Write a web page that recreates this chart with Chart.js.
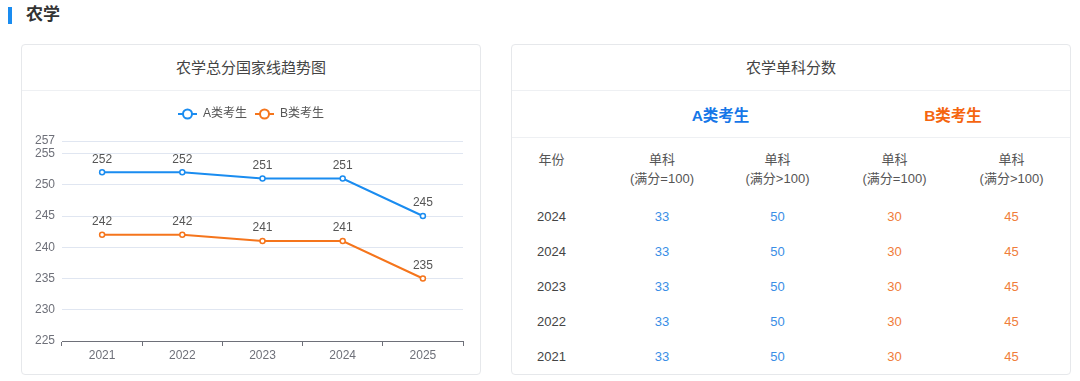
<!DOCTYPE html>
<html lang="zh">
<head>
<meta charset="utf-8">
<script src="https://cdn.jsdelivr.net/npm/chart.js@4.4.0/dist/chart.umd.min.js"></script>
<style>
    body { margin: 0; width: 1080px; height: 381px; background: #fff; font-family: "Liberation Sans", "Noto Sans CJK SC", sans-serif; color: #333; position: relative; overflow: hidden; }
    .section-bar { position: absolute; left: 8px; top: 7px; width: 4px; height: 17px; background: #1a8cf0; }
    .section-title { position: absolute; left: 26px; top: 4px; font-size: 17px; font-weight: bold; line-height: 22px; color: #333; }
    .card { position: absolute; top: 44px; height: 331px; box-sizing: border-box; border: 1px solid #e6e8eb; border-radius: 4px; background: #fff; }
    .card-title { height: 46px; line-height: 45px; text-align: center; font-size: 15px; color: #444; border-bottom: 1px solid #eef0f3; box-sizing: border-box; }
    #chartWrap { position: absolute; left: 0; top: 46px; width: 458px; height: 283px; }
    table { border-collapse: collapse; width: 558px; table-layout: fixed; font-size: 13px; }
    td { text-align: center; padding: 0; }
    .group td { height: 46px; font-size: 15.5px; font-weight: bold; border-bottom: 1px solid #eef0f3; }
    .head td { height: 61px; vertical-align: top; padding-top: 12px; line-height: 19px; color: #555; box-sizing: border-box; }
    .row td { height: 35px; color: #444; }
    .blue { color: #3a8ee6 !important; }
    .orange { color: #f07d3a !important; }
</style>
</head>
<body>
<div class="section-bar"></div>
<div class="section-title">农学</div>

<div class="card" style="left:21px; width:460px;">
    <div class="card-title">农学总分国家线趋势图</div>
    <div id="chartWrap"><canvas id="trendChart"></canvas></div>
</div>

<div class="card" style="left:511px; width:560px;">
    <div class="card-title">农学单科分数</div>
    <table id="scoreTable"></table>
</div>

<script>
const years = ['2021', '2022', '2023', '2024', '2025'];
const scoreA = [252, 252, 251, 251, 245];
const scoreB = [242, 242, 241, 241, 235];
const yTicks = [225, 230, 235, 240, 245, 250, 255, 257];

const tableYears = ['2024', '2024', '2023', '2022', '2021'];
const singleA100 = [33, 33, 33, 33, 33];
const singleAOver = [50, 50, 50, 50, 50];
const singleB100 = [30, 30, 30, 30, 30];
const singleBOver = [45, 45, 45, 45, 45];

const BLUE = '#1a8cf0';
const ORANGE = '#f5751c';

// legend icon: short line with a hollow circle
function makeIcon(color) {
    const c = document.createElement('canvas');
    c.width = 19; c.height = 14;
    const g = c.getContext('2d');
    g.strokeStyle = color;
    g.lineWidth = 2;
    g.beginPath(); g.moveTo(0, 7); g.lineTo(19, 7); g.stroke();
    g.fillStyle = '#fff';
    g.beginPath(); g.arc(9.5, 7, 4.5, 0, Math.PI * 2); g.fill(); g.stroke();
    return c;
}

// value labels above the points
const valueLabels = {
    id: 'valueLabels',
    afterDatasetsDraw(chart) {
        const ctx = chart.ctx;
        ctx.save();
        ctx.font = '12px "Liberation Sans", sans-serif';
        ctx.fillStyle = '#555';
        ctx.textAlign = 'center';
        ctx.textBaseline = 'bottom';
        chart.data.datasets.forEach((ds, i) => {
            chart.getDatasetMeta(i).data.forEach((pt, j) => {
                ctx.fillText(ds.data[j], pt.x, pt.y - 7);
            });
        });
        ctx.restore();
    }
};

// fixed legend height so the plot area lines up, legend centred on the whole card
const legendBox = {
    id: 'legendBox',
    beforeInit(chart) {
        const fit = chart.legend.fit;
        chart.legend.fit = function () {
            fit.call(this);
            this.height = 41;
        };
    },
    afterLayout(chart) {
        chart.legend.left = 0;
        chart.legend.right = chart.width;
    }
};

new Chart(document.getElementById('trendChart'), {
    type: 'line',
    data: {
        labels: years,
        datasets: [
            { label: 'A类考生', data: scoreA, borderColor: BLUE, backgroundColor: '#fff' },
            { label: 'B类考生', data: scoreB, borderColor: ORANGE, backgroundColor: '#fff' }
        ]
    },
    options: {
        responsive: true,
        maintainAspectRatio: false,
        animation: false,
        layout: { padding: { top: 9, right: 17, left: 0, bottom: 0 } },
        elements: {
            line: { borderWidth: 2, tension: 0 },
            point: { radius: 2.5, borderWidth: 1.5, pointStyle: 'circle', backgroundColor: '#fff' }
        },
        scales: {
            x: {
                offset: true,
                grid: { display: true, drawOnChartArea: false, drawTicks: true, tickLength: 5, offset: true, color: '#6e7079' },
                border: { display: true, color: '#6e7079' },
                ticks: { color: '#6e7079', padding: 2, font: { size: 12, family: '"Liberation Sans", sans-serif' } },
                afterFit(scale) { scale.height = 33; }
            },
            y: {
                min: 225,
                max: 257,
                grid: { color: '#e0e6f1', drawTicks: false },
                border: { display: false },
                ticks: { color: '#6e7079', padding: 7, font: { size: 12, family: '"Liberation Sans", sans-serif' } },
                afterBuildTicks(scale) { scale.ticks = yTicks.map(v => ({ value: v })); },
                afterFit(scale) { scale.width = 40; }
            }
        },
        plugins: {
            legend: {
                position: 'top',
                labels: {
                    usePointStyle: true,
                    pointStyleWidth: 19,
                    boxHeight: 12,
                    padding: 8,
                    color: '#555',
                    font: { size: 12, family: '"Liberation Sans", "Noto Sans CJK SC", sans-serif' },
                    generateLabels(chart) {
                        return chart.data.datasets.map((ds, i) => ({
                            text: ds.label,
                            pointStyle: makeIcon(ds.borderColor),
                            fillStyle: ds.borderColor,
                            strokeStyle: ds.borderColor,
                            fontColor: '#555',
                            lineWidth: 0,
                            hidden: false,
                            datasetIndex: i
                        }));
                    }
                }
            },
            tooltip: { enabled: false }
        }
    },
    plugins: [valueLabels, legendBox]
});

// table of single subject scores
function buildTable() {
    const table = document.getElementById('scoreTable');
    let html = '<colgroup><col style="width:93px"><col style="width:114px"><col style="width:117px"><col style="width:117px"><col style="width:117px"></colgroup>';
    html += '<tr class="group"><td></td><td colspan="2" style="color:#1677e8">A类考生</td><td colspan="2" style="color:#f5650f">B类考生</td></tr>';
    html += '<tr class="head"><td style="padding-right:14px">年份</td><td>单科<br>(满分=100)</td><td>单科<br>(满分&gt;100)</td><td>单科<br>(满分=100)</td><td>单科<br>(满分&gt;100)</td></tr>';
    tableYears.forEach((y, i) => {
        html += `<tr class="row"><td style="padding-right:14px">${y}</td>
            <td class="blue">${singleA100[i]}</td>
            <td class="blue">${singleAOver[i]}</td>
            <td class="orange">${singleB100[i]}</td>
            <td class="orange">${singleBOver[i]}</td></tr>`;
    });
    table.innerHTML = html;
}

buildTable();
</script>
</body>
</html>
